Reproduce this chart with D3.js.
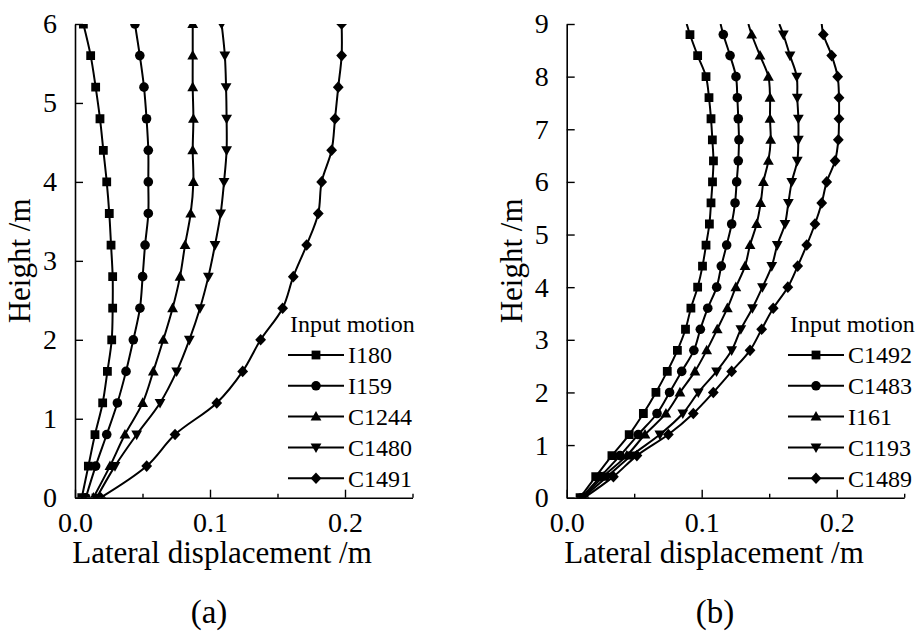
<!DOCTYPE html>
<html>
<head>
<meta charset="utf-8">
<script src="https://cdn.jsdelivr.net/npm/d3@7"></script>
<style>
  html, body { margin: 0; padding: 0; background: #fff; }
  svg { display: block; }
  svg text { font-family: 'Liberation Serif', 'Times New Roman', serif !important; fill: #000; }
</style>
</head>
<body>
<svg id="chart" width="922" height="641"></svg>
<script>
// ---- Panel (a) ----
const heightsA = [0, 0.4, 0.8, 1.2, 1.6, 2.0, 2.4, 2.8, 3.2, 3.6, 4.0, 4.4, 4.8, 5.2, 5.6, 6.0];
const namesA = ["I180", "I159", "C1244", "C1480", "C1491"];
const dispA_I180  = [0.005, 0.0099, 0.0148, 0.0205, 0.024, 0.0272, 0.0279, 0.0279, 0.0267, 0.0254, 0.0235, 0.021, 0.0185, 0.0153, 0.0116, 0.0062];
const dispA_I159  = [0.008, 0.0153, 0.0235, 0.0314, 0.0378, 0.0432, 0.0481, 0.0501, 0.0519, 0.0543, 0.0543, 0.0543, 0.053, 0.0511, 0.048, 0.0444];
const dispA_C1244 = [0.0136, 0.0259, 0.037, 0.0501, 0.058, 0.0654, 0.0723, 0.0778, 0.0815, 0.0857, 0.0877, 0.0872, 0.0877, 0.0872, 0.0872, 0.0872];
const dispA_C1480 = [0.016, 0.0296, 0.0457, 0.063, 0.0753, 0.0847, 0.0926, 0.0988, 0.1037, 0.1079, 0.1104, 0.1123, 0.1123, 0.1119, 0.111, 0.1086];
const dispA_C1491 = [0.019, 0.0531, 0.0741, 0.105, 0.1242, 0.1375, 0.1538, 0.1617, 0.1716, 0.1802, 0.1827, 0.1901, 0.1926, 0.195, 0.1975, 0.1975];
const yTicksA = [0, 1, 2, 3, 4, 5, 6];

// ---- Panel (b) ----
const heightsB = [0, 0.4, 0.8, 1.2, 1.6, 2.0, 2.4, 2.8, 3.2, 3.6, 4.0, 4.4, 4.8, 5.2, 5.6, 6.0, 6.4, 6.8, 7.2, 7.6, 8.0, 8.4, 8.8, 9.0];
const namesB = ["C1492", "C1483", "I161", "C1193", "C1489"];
const dispB_C1492 = [0.0099, 0.0215, 0.0335, 0.0463, 0.0568, 0.0661, 0.0745, 0.082, 0.088, 0.092, 0.097, 0.1006, 0.1032, 0.1057, 0.1069, 0.108, 0.1087, 0.1079, 0.1069, 0.1054, 0.1032, 0.097, 0.0913, 0.0889];
const dispB_C1483 = [0.011, 0.025, 0.0395, 0.053, 0.0669, 0.0762, 0.0852, 0.0942, 0.099, 0.1045, 0.1111, 0.1145, 0.1185, 0.1222, 0.1247, 0.1259, 0.1271, 0.1276, 0.1271, 0.1264, 0.1254, 0.121, 0.116, 0.114];
const dispB_I161  = [0.012, 0.027, 0.0445, 0.058, 0.0735, 0.0839, 0.095, 0.1037, 0.1115, 0.119, 0.1253, 0.1321, 0.1358, 0.1407, 0.1437, 0.1457, 0.1494, 0.1511, 0.1506, 0.1506, 0.1494, 0.1432, 0.137, 0.1346];
const dispB_C1193 = [0.012, 0.030, 0.048, 0.069, 0.086, 0.0975, 0.111, 0.1222, 0.129, 0.1376, 0.145, 0.1519, 0.156, 0.1617, 0.1642, 0.1667, 0.1708, 0.1716, 0.1716, 0.1708, 0.1704, 0.1654, 0.1605, 0.1575];
const dispB_C1489 = [0.013, 0.0346, 0.052, 0.0753, 0.0938, 0.1086, 0.1222, 0.1358, 0.1444, 0.153, 0.1638, 0.1711, 0.1778, 0.1839, 0.1889, 0.1926, 0.1988, 0.2012, 0.2017, 0.2017, 0.2007, 0.1963, 0.1901, 0.1889];
const yTicksB = [0, 1, 2, 3, 4, 5, 6, 7, 8, 9];

// shared x axis
const xMajorTicks = [0.0, 0.1, 0.2];
const xMinorTicks = [0.05, 0.15, 0.25];
const xLabel = "Lateral displacement /m";
const yLabel = "Height /m";
const legendTitle = "Input motion";
const symbolOrder = ["square", "circle", "triangle", "triangleDown", "diamond"];

// marker outlines drawn around (0,0)
function markerPath(kind) {
  switch (kind) {
    case "square":   return "M-4.4,-4.4H4.4V4.4H-4.4Z";
    case "circle":   return "M4.8,0A4.8,4.8 0 1 1 -4.8,0A4.8,4.8 0 1 1 4.8,0Z";
    case "triangle": return "M0,-5.6L5.4,4L-5.4,4Z";
    case "triangleDown": return "M0,5.6L5.4,-4L-5.4,-4Z";
    case "diamond":  return "M0,-5.8L5.4,0L0,5.8L-5.4,0Z";
  }
}

const svg = d3.select("#chart");

const panels = [
  {
    id: "a", left: 75, top: 24, bottom: 497.7, yMax: 6, markerMax: 6,
    heights: heightsA, names: namesA,
    series: [dispA_I180, dispA_I159, dispA_C1244, dispA_C1480, dispA_C1491],
    yTicks: yTicksA, legendX: 288, tag: "(a)", tagX: 209, labelX: 222
  },
  {
    id: "b", left: 566.7, top: 24, bottom: 497.7, yMax: 9, markerMax: 8.8,
    heights: heightsB, names: namesB,
    series: [dispB_C1492, dispB_C1483, dispB_I161, dispB_C1193, dispB_C1489],
    yTicks: yTicksB, legendX: 788, tag: "(b)", tagX: 715, labelX: 714
  }
];

const xWidth = 337.5; // 0 .. 0.25 m

panels.forEach(p => {
  const x = d3.scaleLinear().domain([0, 0.25]).range([p.left, p.left + xWidth]);
  const y = d3.scaleLinear().domain([0, p.yMax]).range([p.bottom, p.top]);
  const g = svg.append("g");

  const clipId = "clip-" + p.id;
  svg.append("clipPath").attr("id", clipId)
    .append("rect")
    .attr("x", x(0)).attr("y", y(p.yMax))
    .attr("width", x(0.25) - x(0)).attr("height", y(0) - y(p.yMax));

  // curves
  const line = d3.line()
    .x(d => x(d[0])).y(d => y(d[1]))
    .curve(d3.curveCatmullRom.alpha(0.5));

  const plot = g.append("g").attr("clip-path", `url(#${clipId})`);
  p.series.forEach((vals, i) => {
    const pts = vals.map((v, k) => [v, p.heights[k]]);
    plot.append("path").datum(pts)
      .attr("d", line)
      .attr("fill", "none").attr("stroke", "#000").attr("stroke-width", 2);
    plot.selectAll(null)
      .data(pts.filter(d => d[1] <= p.markerMax + 1e-9))
      .enter().append("path")
      .attr("d", markerPath(symbolOrder[i]))
      .attr("transform", d => `translate(${x(d[0])},${y(d[1])})`)
      .attr("fill", "#000");
  });

  // x axis: ticks pointing inward
  const xAxis = d3.axisBottom(x).tickValues(xMajorTicks).tickFormat(d3.format(".1f"))
    .tickSizeInner(-8).tickSizeOuter(0).tickPadding(20);
  const gx = g.append("g").attr("transform", `translate(0,${p.bottom})`).call(xAxis);
  gx.select(".domain").attr("stroke-width", 1.6);
  gx.selectAll(".tick line").attr("stroke-width", 1.4);
  gx.selectAll(".tick text").style("font-size", "28px").attr("dy", "0.5em");
  const xMinor = d3.axisBottom(x).tickValues(xMinorTicks).tickFormat("")
    .tickSizeInner(-4).tickSizeOuter(0);
  const gxm = g.append("g").attr("transform", `translate(0,${p.bottom})`).call(xMinor);
  gxm.select(".domain").remove();
  gxm.selectAll(".tick line").attr("stroke-width", 1.4);

  // y axis: ticks pointing inward
  const yAxis = d3.axisLeft(y).tickValues(p.yTicks).tickFormat(d3.format("d"))
    .tickSizeInner(-8).tickSizeOuter(0).tickPadding(18);
  const gy = g.append("g").attr("transform", `translate(${p.left},0)`).call(yAxis);
  gy.select(".domain").attr("stroke-width", 1.6);
  gy.selectAll(".tick line").attr("stroke-width", 1.4);
  gy.selectAll(".tick text").style("font-size", "28px");

  // axis titles
  g.append("text")
    .attr("x", p.labelX).attr("y", 563)
    .attr("text-anchor", "middle").style("font-size", "31px")
    .text(xLabel);
  g.append("text")
    .attr("transform", `translate(${p.left - 45},${(p.top + p.bottom) / 2}) rotate(-90)`)
    .attr("text-anchor", "middle").style("font-size", "31px")
    .text(yLabel);

  // panel tag
  g.append("text")
    .attr("x", p.tagX).attr("y", 623)
    .attr("text-anchor", "middle").style("font-size", "33px")
    .text(p.tag);

  // legend
  const lg = g.append("g");
  lg.append("text").attr("x", p.legendX + 2).attr("y", 324)
    .attr("dy", "0.35em").style("font-size", "24px").text(legendTitle);
  p.names.forEach((name, i) => {
    const yy = 355 + i * 30.8;
    lg.append("line")
      .attr("x1", p.legendX).attr("x2", p.legendX + 56)
      .attr("y1", yy).attr("y2", yy)
      .attr("stroke", "#000").attr("stroke-width", 2);
    lg.append("path")
      .attr("d", markerPath(symbolOrder[i]))
      .attr("transform", `translate(${p.legendX + 28},${yy})`)
      .attr("fill", "#000");
    lg.append("text").attr("x", p.legendX + 60).attr("y", yy)
      .attr("dy", "0.35em").style("font-size", "24px").text(name);
  });
});
</script>
</body>
</html>
